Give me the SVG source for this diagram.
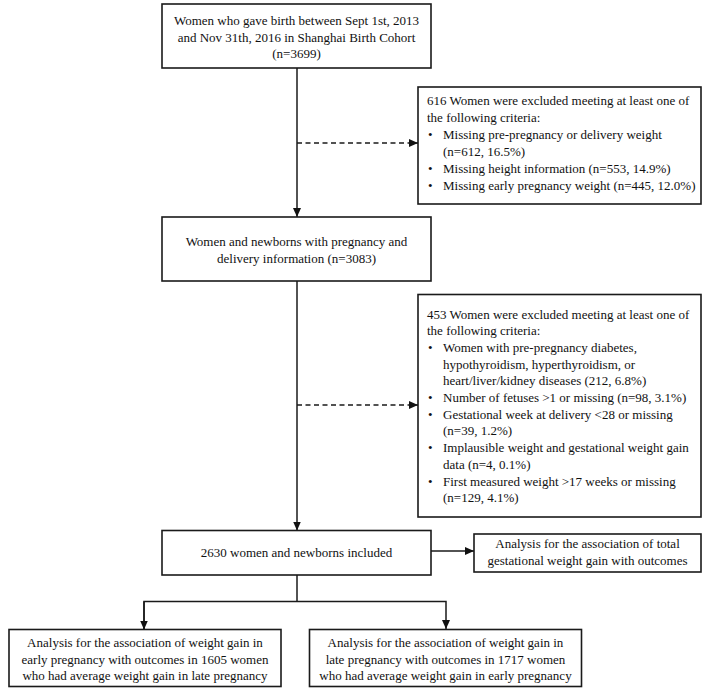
<svg xmlns="http://www.w3.org/2000/svg" width="704" height="689" viewBox="0 0 704 689">
<defs>
<marker id="ah" markerUnits="userSpaceOnUse" markerWidth="9" markerHeight="8" refX="9" refY="4" orient="auto">
<path d="M0,0 L9,4 L0,8 z" fill="#111"/>
</marker>
<style>
.box{fill:#fff;stroke:#1a1a1a;stroke-width:1.6}
.t{font-family:"Liberation Serif","Times New Roman",serif;font-size:13px;fill:#111}
.c{text-anchor:middle}
.ln{fill:none;stroke:#1a1a1a;stroke-width:1.5}
.dash{stroke-dasharray:5 3.5}
</style>
</defs>
<rect width="704" height="689" fill="#fff"/>
<g id="connectors">
<line class="ln" x1="297" y1="68" x2="297" y2="217" marker-end="url(#ah)"/>
<line class="ln dash" x1="297" y1="143" x2="418" y2="143" marker-end="url(#ah)"/>
<line class="ln" x1="297" y1="281" x2="297" y2="530.5" marker-end="url(#ah)"/>
<line class="ln dash" x1="297" y1="405" x2="418" y2="405" marker-end="url(#ah)"/>
<line class="ln" x1="431" y1="551" x2="474" y2="551" marker-end="url(#ah)"/>
<line class="ln" x1="297" y1="575" x2="297" y2="601.5"/>
<polyline class="ln" points="144,629 144,601.5 446,601.5 446,629" marker-end="url(#ah)"/>
<line class="ln" x1="144" y1="601.5" x2="144" y2="629.5" marker-end="url(#ah)"/>
</g>
<g id="n1">
<rect class="box" x="162" y="4" width="269" height="64"/>
<text class="t c" x="296.5" y="25">Women who gave birth between Sept 1st, 2013</text>
<text class="t c" x="296.5" y="41.5">and Nov 31th, 2016 in Shanghai Birth Cohort</text>
<text class="t c" x="296.5" y="58">(n=3699)</text>
</g>
<g id="n2">
<rect class="box" x="418" y="87" width="283" height="117"/>
<text class="t" x="427" y="105">616 Women were excluded meeting at least one of</text>
<text class="t" x="427" y="122">the following criteria:</text>
<text class="t" x="428" y="139">•</text><text class="t" x="443" y="139">Missing pre-pregnancy or delivery weight</text>
<text class="t" x="443" y="156">(n=612, 16.5%)</text>
<text class="t" x="428" y="173">•</text><text class="t" x="443" y="173">Missing height information (n=553, 14.9%)</text>
<text class="t" x="428" y="190">•</text><text class="t" x="443" y="190">Missing early pregnancy weight (n=445, 12.0%)</text>
</g>
<g id="n3">
<rect class="box" x="162" y="217" width="269" height="64"/>
<text class="t c" x="296.5" y="246">Women and newborns with pregnancy and</text>
<text class="t c" x="296.5" y="262.5">delivery information (n=3083)</text>
</g>
<g id="n4">
<rect class="box" x="418" y="294.5" width="283" height="222.5"/>
<text class="t" x="427" y="318.5">453 Women were excluded meeting at least one of</text>
<text class="t" x="427" y="335.2">the following criteria:</text>
<text class="t" x="428" y="351.9">•</text><text class="t" x="443" y="351.9">Women with pre-pregnancy diabetes,</text>
<text class="t" x="443" y="368.6">hypothyroidism, hyperthyroidism, or</text>
<text class="t" x="443" y="385.3">heart/liver/kidney diseases (212, 6.8%)</text>
<text class="t" x="428" y="402">•</text><text class="t" x="443" y="402">Number of fetuses &gt;1 or missing (n=98, 3.1%)</text>
<text class="t" x="428" y="418.7">•</text><text class="t" x="443" y="418.7">Gestational week at delivery &lt;28 or missing</text>
<text class="t" x="443" y="435.4">(n=39, 1.2%)</text>
<text class="t" x="428" y="452.1">•</text><text class="t" x="443" y="452.1">Implausible weight and gestational weight gain</text>
<text class="t" x="443" y="468.8">data (n=4, 0.1%)</text>
<text class="t" x="428" y="485.5">•</text><text class="t" x="443" y="485.5">First measured weight &gt;17 weeks or missing</text>
<text class="t" x="443" y="502.2">(n=129, 4.1%)</text>
</g>
<g id="n5">
<rect class="box" x="162" y="530.5" width="269" height="44.5"/>
<text class="t c" x="296.5" y="556.5">2630 women and newborns included</text>
</g>
<g id="n6">
<rect class="box" x="474" y="534" width="227" height="38"/>
<text class="t c" x="587.5" y="548">Analysis for the association of total</text>
<text class="t c" x="587.5" y="564.5">gestational weight gain with outcomes</text>
</g>
<g id="n7">
<rect class="box" x="9" y="629.5" width="272" height="57"/>
<text class="t c" x="145" y="647">Analysis for the association of weight gain in</text>
<text class="t c" x="145" y="663.5">early pregnancy with outcomes in 1605 women</text>
<text class="t c" x="145" y="680">who had average weight gain in late pregnancy</text>
</g>
<g id="n8">
<rect class="box" x="309.5" y="629.5" width="272" height="57"/>
<text class="t c" x="445.5" y="647">Analysis for the association of weight gain in</text>
<text class="t c" x="445.5" y="663.5">late pregnancy with outcomes in 1717 women</text>
<text class="t c" x="445.5" y="680">who had average weight gain in early pregnancy</text>
</g>
</svg>
